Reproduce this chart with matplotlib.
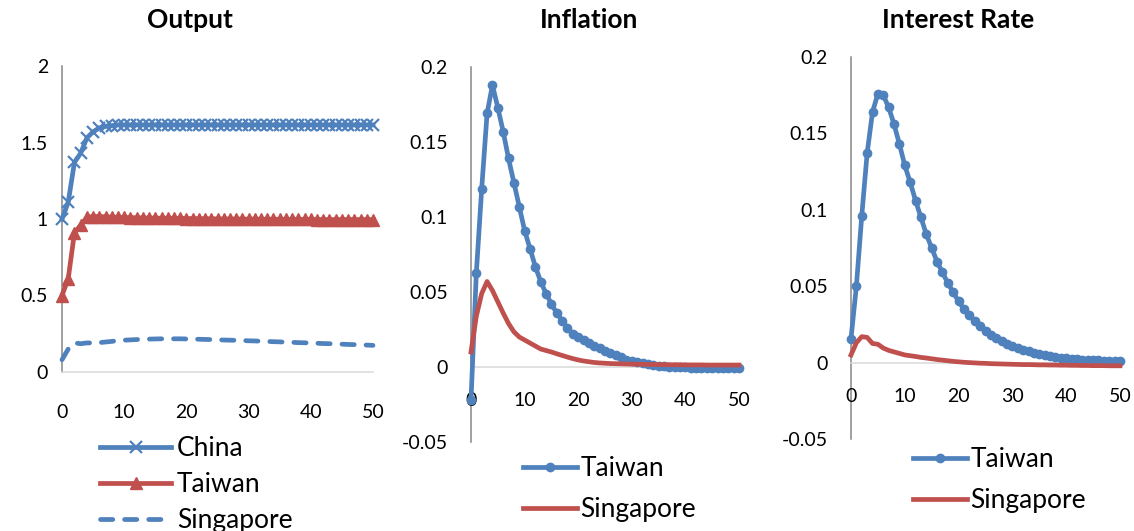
import matplotlib
matplotlib.use("Agg")
import matplotlib.pyplot as plt

plt.rcParams['font.family'] = ['Lato', 'DejaVu Sans']

periods = list(range(51))

# Output responses
out_china = [1.00, 1.11, 1.37, 1.43, 1.53, 1.57, 1.595, 1.605, 1.61, 1.615,
             1.615, 1.615, 1.615, 1.615, 1.615, 1.615, 1.615, 1.615, 1.615, 1.615,
             1.615, 1.615, 1.615, 1.615, 1.615, 1.615, 1.615, 1.615, 1.615, 1.615,
             1.615, 1.615, 1.615, 1.615, 1.615, 1.615, 1.615, 1.615, 1.615, 1.615,
             1.615, 1.615, 1.615, 1.615, 1.615, 1.615, 1.615, 1.615, 1.615, 1.615,
             1.615]
out_taiwan = [0.50, 0.61, 0.91, 0.96, 1.01, 1.016, 1.016, 1.014, 1.012, 1.011,
              1.010, 1.009, 1.008, 1.007, 1.006, 1.006, 1.005, 1.005, 1.004, 1.004,
              1.003, 1.003, 1.002, 1.002, 1.001, 1.001, 1.000, 1.000, 1.000, 0.999,
              0.999, 0.999, 0.998, 0.998, 0.998, 0.998, 0.997, 0.997, 0.997, 0.997,
              0.997, 0.996, 0.996, 0.996, 0.996, 0.996, 0.996, 0.996, 0.996, 0.996,
              0.996]
out_singapore = [0.08, 0.15, 0.19, 0.185, 0.19, 0.19, 0.192, 0.196, 0.20, 0.205,
                 0.208, 0.21, 0.212, 0.214, 0.215, 0.216, 0.217, 0.217, 0.217, 0.217,
                 0.216, 0.215, 0.214, 0.213, 0.212, 0.211, 0.209, 0.208, 0.207, 0.206,
                 0.204, 0.203, 0.201, 0.200, 0.198, 0.197, 0.195, 0.194, 0.192, 0.191,
                 0.189, 0.188, 0.186, 0.185, 0.183, 0.182, 0.180, 0.179, 0.177, 0.176,
                 0.174]

# Inflation responses
inf_taiwan = [-0.022, 0.063, 0.119, 0.169, 0.188, 0.173, 0.157, 0.139, 0.123, 0.107,
              0.091, 0.079, 0.067, 0.057, 0.049, 0.042, 0.036, 0.031, 0.026, 0.022,
              0.020, 0.018, 0.016, 0.014, 0.0125, 0.011, 0.0095, 0.008, 0.0065, 0.005,
              0.004, 0.0033, 0.0026, 0.002, 0.0014, 0.0009, 0.0005, 0.0002, 0.0, -0.0002,
              -0.0003, -0.0004, -0.0005, -0.0006, -0.0007, -0.0007, -0.0008, -0.0008, -0.0008, -0.0008,
              -0.0008]
inf_singapore = [0.010, 0.034, 0.049, 0.057, 0.051, 0.0435, 0.036, 0.029, 0.0235, 0.020,
                 0.018, 0.016, 0.014, 0.012, 0.011, 0.010, 0.0088, 0.0077, 0.0066, 0.0056,
                 0.0047, 0.004, 0.0035, 0.003, 0.0027, 0.0025, 0.0023, 0.0022, 0.0021, 0.002,
                 0.0019, 0.0018, 0.0018, 0.0017, 0.0017, 0.0016, 0.0016, 0.0015, 0.0015, 0.0015,
                 0.0014, 0.0014, 0.0014, 0.0014, 0.0013, 0.0013, 0.0013, 0.0013, 0.0013, 0.0013,
                 0.0013]

# Interest rate responses
ir_taiwan = [0.0157, 0.050, 0.096, 0.137, 0.164, 0.176, 0.175, 0.167, 0.156, 0.143,
             0.129, 0.118, 0.106, 0.095, 0.084, 0.075, 0.066, 0.059, 0.052, 0.046,
             0.040, 0.035, 0.031, 0.027, 0.024, 0.021, 0.018, 0.016, 0.014, 0.012,
             0.011, 0.0095, 0.0083, 0.0073, 0.0064, 0.0056, 0.0049, 0.0043, 0.0038, 0.0033,
             0.0029, 0.0026, 0.0023, 0.002, 0.0018, 0.0016, 0.0014, 0.0012, 0.0011, 0.0009,
             0.0008]
ir_singapore = [0.005, 0.013, 0.017, 0.0165, 0.0125, 0.012, 0.0095, 0.008, 0.007, 0.006,
                0.005, 0.0045, 0.004, 0.0034, 0.003, 0.0025, 0.002, 0.0016, 0.0012, 0.0008,
                0.0005, 0.0002, 0.0, -0.0002, -0.0004, -0.0005, -0.0007, -0.0008, -0.0009, -0.001,
                -0.0011, -0.0012, -0.0013, -0.0013, -0.0014, -0.0015, -0.0015, -0.0016, -0.0016, -0.0017,
                -0.0017, -0.0018, -0.0018, -0.0019, -0.0019, -0.002, -0.002, -0.002, -0.0021, -0.0021,
                -0.0021]

titles = ['Output', 'Inflation', 'Interest Rate']
blue = '#4F81BD'
red = '#C0504D'
lw = 3.4

fig = plt.figure(figsize=(11.34, 5.31), dpi=100)
W, H = 1134, 531


def make_ax(x0, x1, ytop, ybot):
    return fig.add_axes([x0 / W, 1 - ybot / H, (x1 - x0) / W, (ybot - ytop) / H])


ax1 = make_ax(62, 373, 66, 372)
ax2 = make_ax(471, 739, 67, 442)
ax3 = make_ax(851, 1120, 57, 439)

# Output
ax1.plot(periods, out_china, color=blue, lw=lw, marker='x', ms=9, mew=1.6, label='China', clip_on=False)
ax1.plot(periods, out_taiwan, color=red, lw=lw, marker='^', ms=9, label='Taiwan', clip_on=False)
ax1.plot(periods, out_singapore, color=blue, lw=lw, ls=(0, (2.6, 2.5)), dash_capstyle='round',
         label='Singapore', clip_on=False)
ax1.set_ylim(0, 2)
ax1.set_yticks([0, 0.5, 1, 1.5, 2])
ax1.set_yticklabels(['0', '0.5', '1', '1.5', '2'])

# Inflation
ax2.plot(periods, inf_taiwan, color=blue, lw=lw, marker='o', ms=6, label='Taiwan', clip_on=False)
ax2.plot(periods, inf_singapore, color=red, lw=lw, label='Singapore', clip_on=False)
ax2.set_ylim(-0.05, 0.2)

# Interest rate
ax3.plot(periods, ir_taiwan, color=blue, lw=lw, marker='o', ms=6, label='Taiwan', clip_on=False)
ax3.plot(periods, ir_singapore, color=red, lw=lw, label='Singapore', clip_on=False)
ax3.set_ylim(-0.05, 0.2)

for ax in (ax2, ax3):
    ax.set_yticks([-0.05, 0, 0.05, 0.1, 0.15, 0.2])
    ax.set_yticklabels(['-0.05', '0', '0.05', '0.1', '0.15', '0.2'])

for ax, xpad, ypad in ((ax1, 23, 10), (ax2, 18, 16.5), (ax3, 18, 16.5)):
    ax.set_xlim(0, 50)
    ax.set_xticks([0, 10, 20, 30, 40, 50])
    ax.spines['top'].set_visible(False)
    ax.spines['right'].set_visible(False)
    ax.spines['left'].set_color('#868686')
    ax.spines['left'].set_linewidth(1.1)
    ax.spines['bottom'].set_position(('data', 0))
    ax.spines['bottom'].set_color('#D9D9D9')
    ax.spines['bottom'].set_linewidth(1.1)
    ax.spines['left'].set_zorder(0.5)
    ax.spines['bottom'].set_zorder(0.5)
    ax.tick_params(axis='both', length=0, labelsize=14, colors='black')
    ax.tick_params(axis='x', pad=xpad)
    ax.tick_params(axis='y', pad=ypad)
    ax.patch.set_visible(False)

fig.text(190 / W, 1 - 28 / H, titles[0], fontsize=19, fontweight='bold', ha='center', va='baseline')
fig.text(589 / W, 1 - 28 / H, titles[1], fontsize=19, fontweight='bold', ha='center', va='baseline')
fig.text(958 / W, 1 - 28 / H, titles[2], fontsize=19, fontweight='bold', ha='center', va='baseline')

ax1.legend(loc='upper left', bbox_to_anchor=(100 / W, 1 - 436 / H), bbox_transform=fig.transFigure,
           frameon=False, fontsize=19, handlelength=2.7, handletextpad=0.22, labelspacing=0.42,
           borderpad=0, borderaxespad=0, numpoints=1)
ax2.legend(loc='upper left', bbox_to_anchor=(523 / W, 1 - 456 / H), bbox_transform=fig.transFigure,
           frameon=False, fontsize=19, handlelength=2.05, handletextpad=0.12, labelspacing=0.62,
           borderpad=0, borderaxespad=0, numpoints=1)
ax3.legend(loc='upper left', bbox_to_anchor=(913 / W, 1 - 447 / H), bbox_transform=fig.transFigure,
           frameon=False, fontsize=19, handlelength=2.05, handletextpad=0.12, labelspacing=0.62,
           borderpad=0, borderaxespad=0, numpoints=1)

fig.savefig('out.png', dpi=100)
